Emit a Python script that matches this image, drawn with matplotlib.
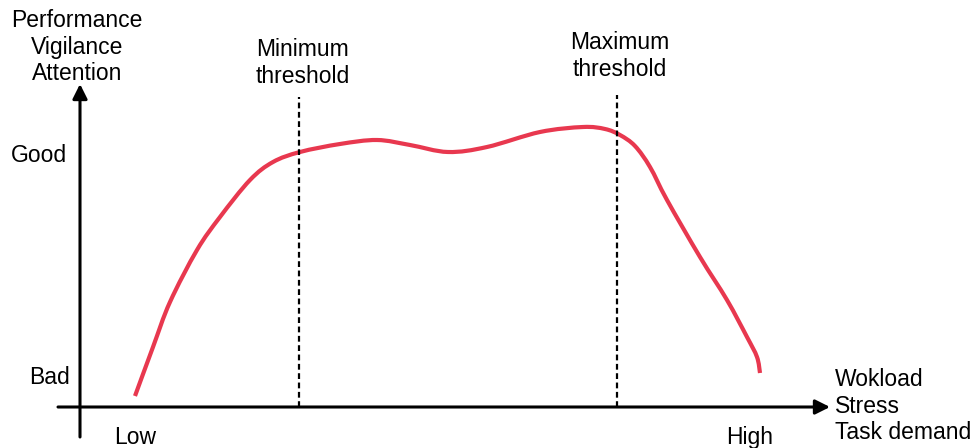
import matplotlib
matplotlib.use("Agg")
import matplotlib.pyplot as plt
from matplotlib.path import Path
from matplotlib.patches import PathPatch

plt.rcParams["font.family"] = ["Liberation Sans", "DejaVu Sans"]

# Curve: x = workload (0 at the y axis), y = performance (0 at the x axis)
workload = [55, 73, 90, 117, 140, 170, 193, 220, 260, 297, 330, 368, 407, 460,
            503, 525, 540, 555, 570, 587, 620, 647, 667, 677, 680]
performance = [11, 60, 105, 157, 190, 227, 245, 255, 263, 267, 262, 255, 260, 275,
               280, 278, 272, 261, 240, 207, 150, 107, 70, 50, 34]

thresholds = [219, 537]
threshold_labels = ["Minimum\nthreshold", "Maximum\nthreshold"]
threshold_tops = [310, 312]

y_labels = ["Good", "Bad"]
x_labels = ["Low", "High"]


def smooth_path(xs, ys):
    # Catmull-Rom through the points, drawn as cubic Bezier segments
    pts = list(zip(xs, ys))
    verts = [pts[0]]
    codes = [Path.MOVETO]
    for i in range(len(pts) - 1):
        p0 = pts[max(i - 1, 0)]
        p1 = pts[i]
        p2 = pts[i + 1]
        p3 = pts[min(i + 2, len(pts) - 1)]
        c1 = (p1[0] + (p2[0] - p0[0]) / 6, p1[1] + (p2[1] - p0[1]) / 6)
        c2 = (p2[0] - (p3[0] - p1[0]) / 6, p2[1] - (p3[1] - p1[1]) / 6)
        verts += [c1, c2, p2]
        codes += [Path.CURVE4] * 3
    return Path(verts, codes)


fig = plt.figure(figsize=(9.76, 4.48), dpi=100)
ax = fig.add_axes([0, 0, 1, 1])
ax.set_xlim(-80, 896)
ax.set_ylim(-41, 407)
ax.axis("off")

red = "#e8384f"
fs = 16.5

ax.add_patch(PathPatch(smooth_path(workload, performance), facecolor="none",
                       edgecolor=red, lw=3.0, capstyle="butt", joinstyle="round"))

for x, top in zip(thresholds, threshold_tops):
    ax.plot([x, x], [0, top], color="black", lw=1.6, linestyle=(0, (2.6, 1.6)))

arrow = dict(arrowstyle="-|>", color="black", lw=2.2, mutation_scale=22,
             shrinkA=0, shrinkB=0)
ax.annotate("", xy=(750, 0), xytext=(-22, 0), arrowprops=arrow)
ax.annotate("", xy=(0, 323), xytext=(0, -30), arrowprops=arrow)

ax.text(-3, 360, "Performance\nVigilance\nAttention", ha="center", va="center",
        fontsize=fs, linespacing=1.2)
ax.text(755, 1, "Wokload\nStress\nTask demand", ha="left", va="center",
        fontsize=fs, linespacing=1.2)

ax.text(-13, 252, y_labels[0], ha="right", va="center", fontsize=fs)
ax.text(-10, 30, y_labels[1], ha="right", va="center", fontsize=fs)

ax.text(55, -30, x_labels[0], ha="center", va="center", fontsize=fs)
ax.text(670, -30, x_labels[1], ha="center", va="center", fontsize=fs)

ax.text(thresholds[0] + 4, 344, threshold_labels[0], ha="center", va="center",
        fontsize=fs, linespacing=1.2)
ax.text(thresholds[1] + 3, 351, threshold_labels[1], ha="center", va="center",
        fontsize=fs, linespacing=1.2)

fig.savefig("out.png", dpi=100)
